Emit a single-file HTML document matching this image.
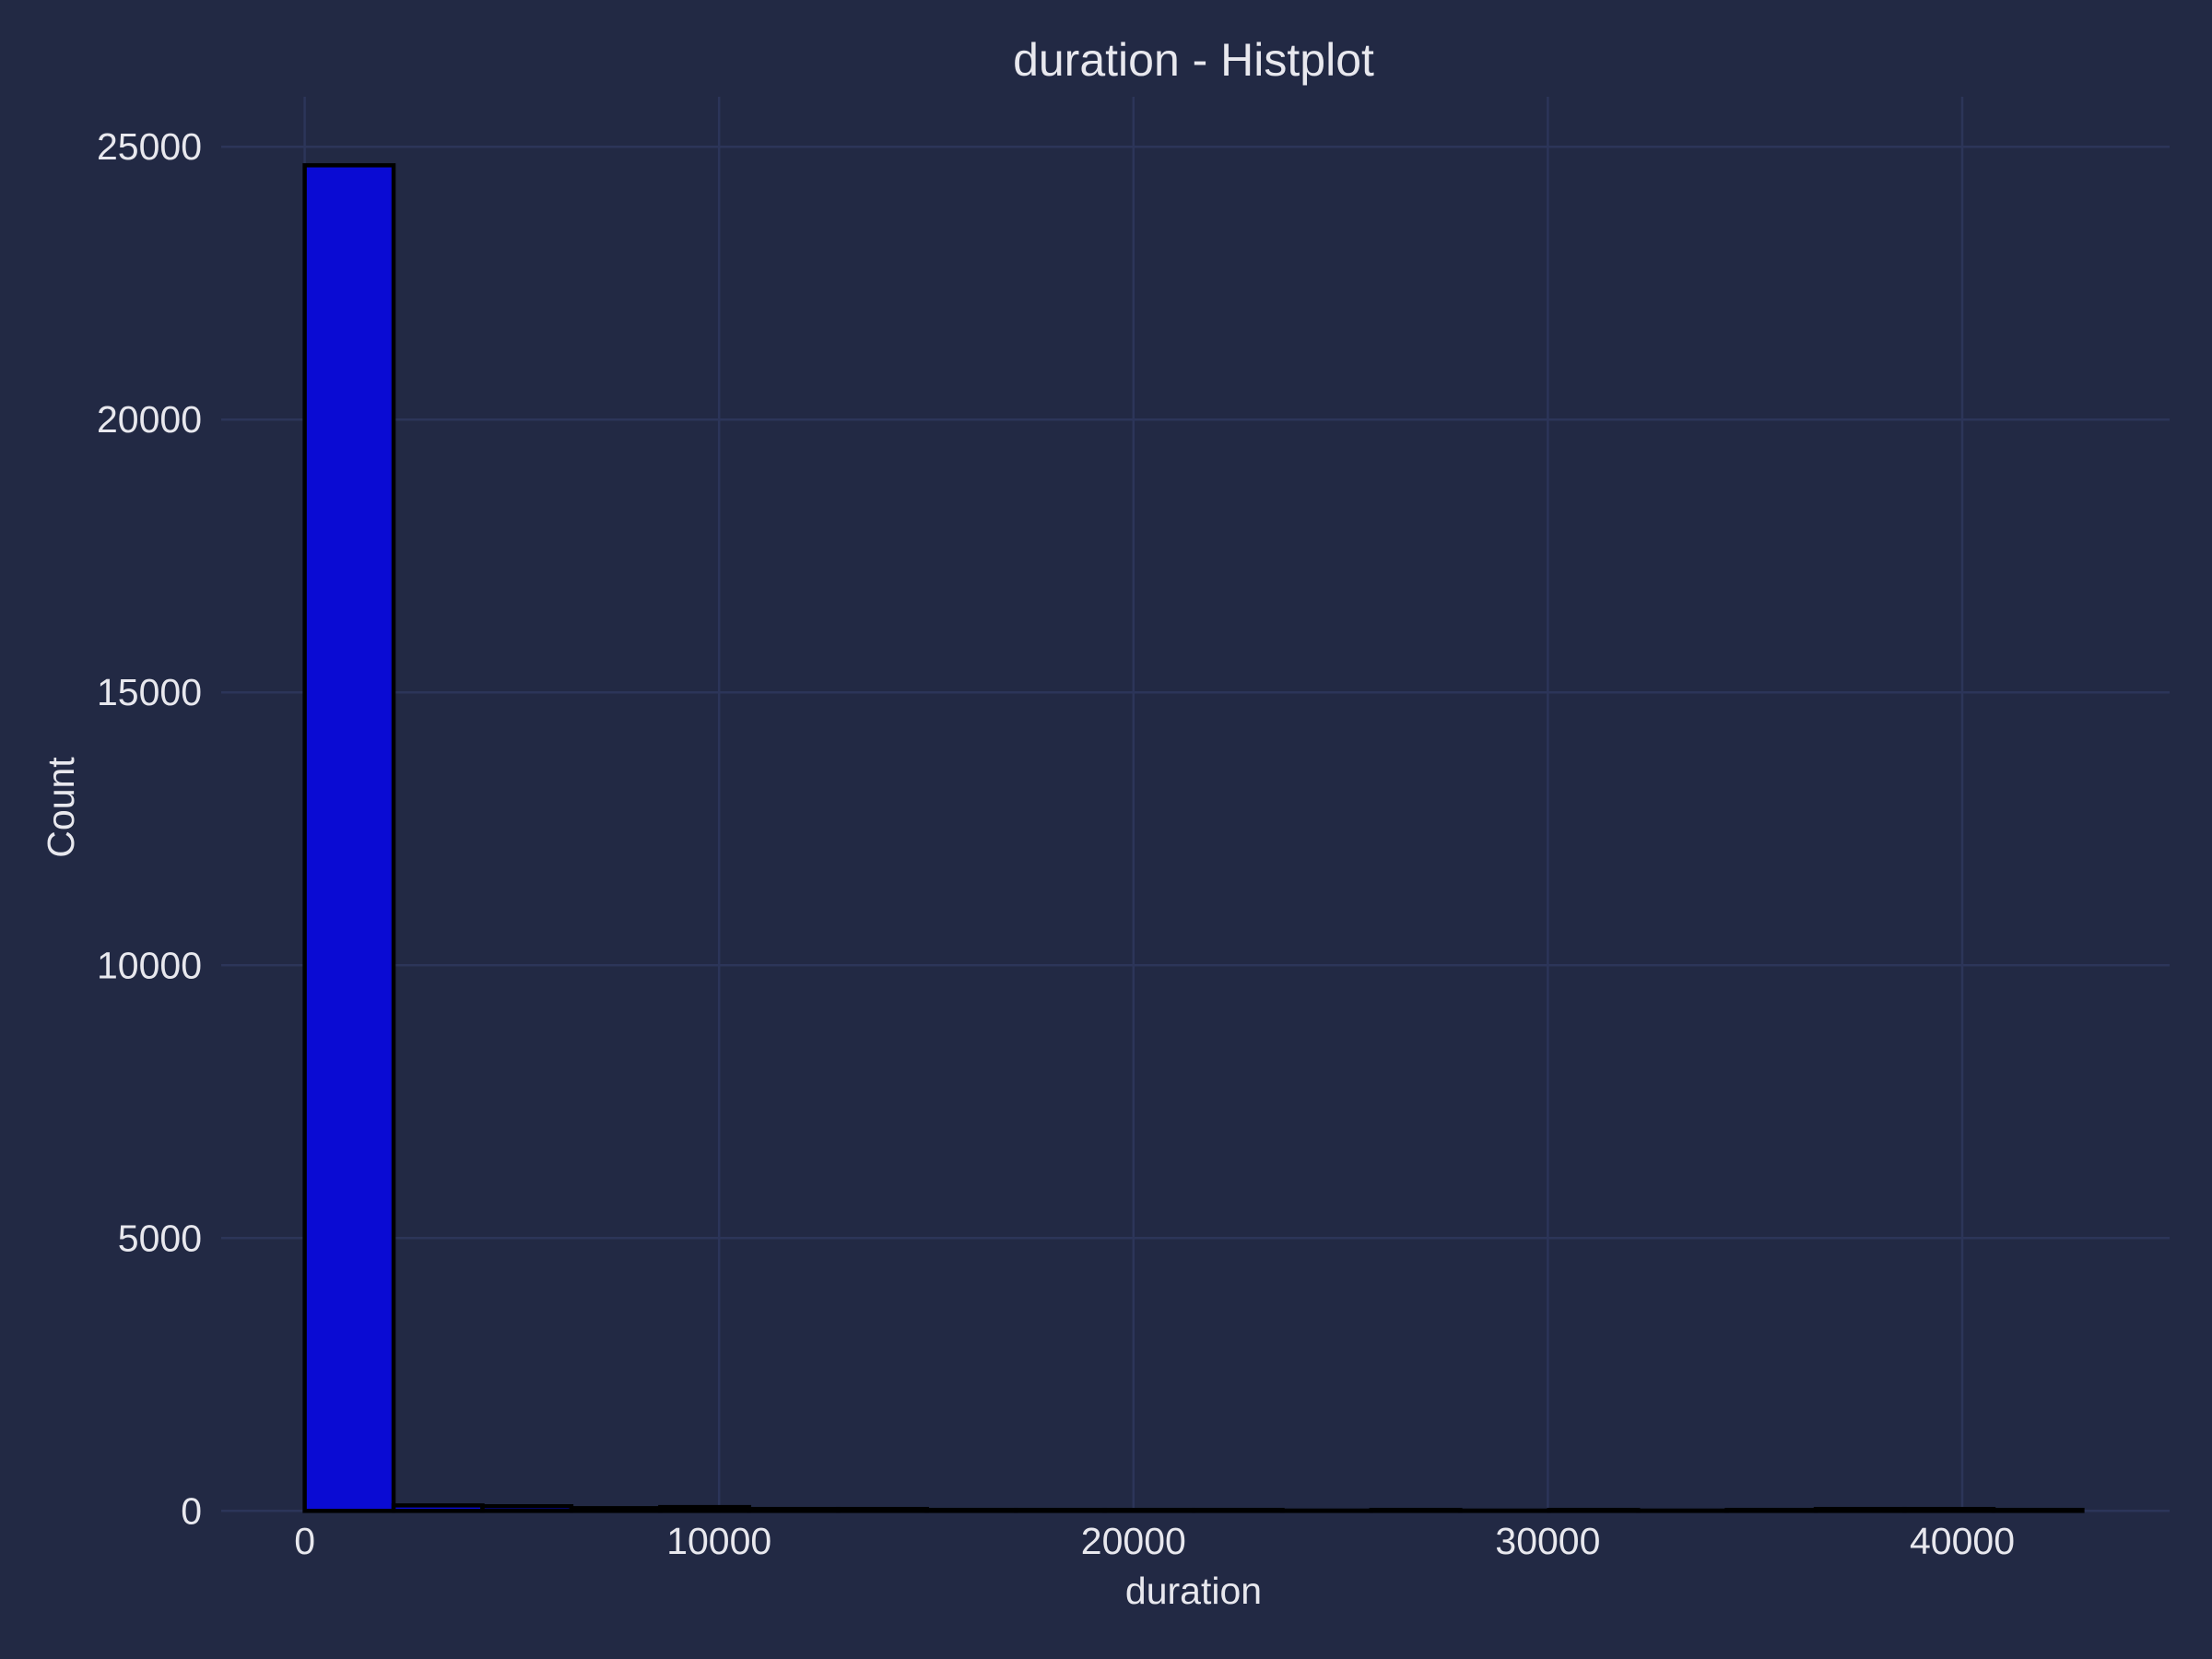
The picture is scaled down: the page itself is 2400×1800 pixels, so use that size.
<!DOCTYPE html>
<html><head><meta charset="utf-8"><style>
html,body{margin:0;padding:0;background:#222944;}
svg{display:block;font-family:"Liberation Sans",Arial,sans-serif;}
</style></head><body>
<svg id="chart" width="2400" height="1800" viewBox="0 0 2400 1800" xmlns="http://www.w3.org/2000/svg">
<rect width="2400" height="1800" fill="#222944"/>
<g id="grid"></g>
<g id="bars"></g>
<g id="ticks"></g>
<text x="1295" y="82" text-anchor="middle" font-size="50" fill="#e8e8ee">duration - Histplot</text>
<text x="1295" y="1740" text-anchor="middle" font-size="41" fill="#e8e8ee">duration</text>
<text transform="translate(80,876) rotate(-90)" text-anchor="middle" font-size="41" fill="#e8e8ee">Count</text>
</svg>
<script>
const binStart = 0;
const binWidth = 2145;
const counts = [24660, 100, 85, 50, 70, 35, 35, 18, 18, 18, 18, 6, 18, 6, 18, 6, 18, 35, 35, 18];
const xTicks = [0, 10000, 20000, 30000, 40000];
const yTicks = [0, 5000, 10000, 15000, 20000, 25000];

const plot = {left: 240, right: 2354, top: 105, bottom: 1639};
function xs(v){ return 330.6 + v * (2129 - 330.6) / 40000; }
function ys(v){ return 1639.3 - v * (1639.3 - 159.2) / 25000; }
const NS = "http://www.w3.org/2000/svg";
function mk(tag, attrs, parent){
  const e = document.createElementNS(NS, tag);
  for (const k in attrs) e.setAttribute(k, attrs[k]);
  document.getElementById(parent).appendChild(e);
  return e;
}
xTicks.forEach(t => {
  const l = mk('line', {x1: xs(t), x2: xs(t), y1: plot.top, y2: plot.bottom, stroke: '#2c3559', 'stroke-width': 2.5}, 'grid');
  
  
  const tx = mk('text', {x: xs(t), y: 1686, 'text-anchor': 'middle', 'font-size': 41, fill: '#e8e8ee'}, 'ticks');
  tx.textContent = t;
  
  
});
yTicks.forEach(t => {
  const l = mk('line', {x1: plot.left, x2: plot.right, y1: ys(t), y2: ys(t), stroke: '#2c3559', 'stroke-width': 2.5}, 'grid');
  
  
  const tx = mk('text', {x: 219, y: ys(t) + 14, 'text-anchor': 'end', 'font-size': 41, fill: '#e8e8ee'}, 'ticks');
  tx.textContent = t;
  
  
});
counts.forEach((c, i) => {
  const x0 = xs(binStart + i * binWidth), x1 = xs(binStart + (i + 1) * binWidth);
  const r = mk('rect', {x: x0, y: ys(c), width: x1 - x0, height: ys(0) - ys(c), fill: '#0a0bd3', stroke: '#000', 'stroke-width': 4.5}, 'bars');
  
  
});
</script>
</body></html>
